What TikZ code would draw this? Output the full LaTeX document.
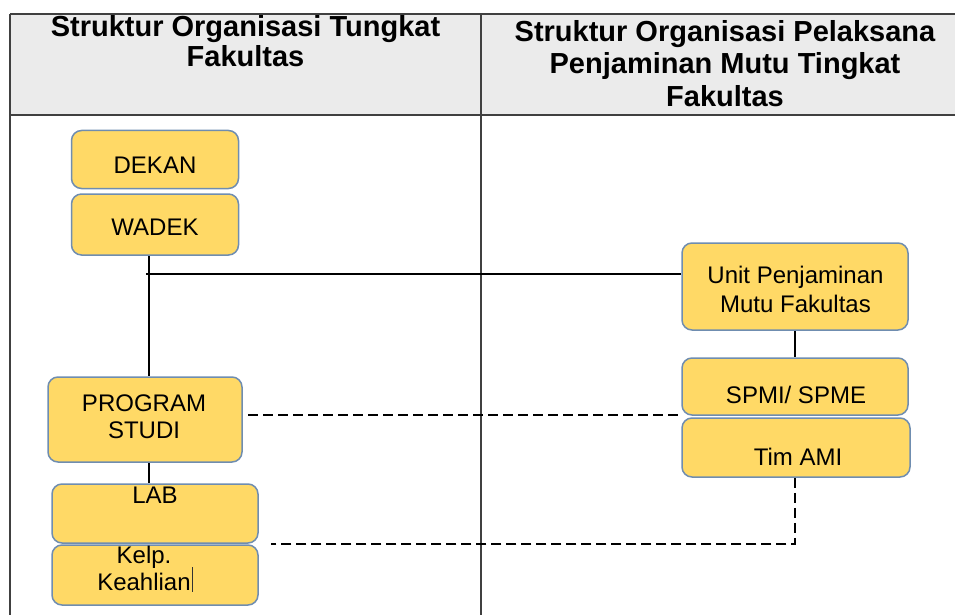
\documentclass[tikz,border=0pt]{standalone}
\usepackage{fontspec}
\setmainfont{Liberation Sans}
\usetikzlibrary{backgrounds}
\definecolor{boxyellow}{HTML}{FFD966}
\definecolor{boxblue}{HTML}{6F8DB0}
\definecolor{hdrgray}{HTML}{EBEBEB}
\begin{document}
\begin{tikzpicture}[x=1pt,y=-1pt,
  box/.style={draw=boxblue, fill=boxyellow, line width=1.5pt, rounded corners=10pt, inner sep=0pt},
  lbl/.style={anchor=base, align=center, inner sep=0pt, font=\fontsize{24}{27}\selectfont},
  hdr/.style={anchor=base, align=center, inner sep=0pt},
  conn/.style={line width=1.8pt, black},
  dconn/.style={line width=1.6pt, black, dash pattern=on 10pt off 5pt},
  rule/.style={line width=2pt, black!75}]
\useasboundingbox (0,0) rectangle (955,615);
% coordinates
\coordinate (trunk) at (149,274);
\coordinate (trunkstart) at (146,274);
\coordinate (dashA) at (248,415);
\coordinate (dashB) at (680,415);
\coordinate (corner) at (795,544);
\coordinate (dashEnd) at (271,544);
% boxes
\node[box, minimum width=167, minimum height=58] (dekan) at (155,159.5) {};
\node[box, minimum width=167, minimum height=61] (wadek) at (155,224.5) {};
\node[box, minimum width=194, minimum height=85] (ps) at (145,419.5) {};
\node[box, minimum width=206, minimum height=59] (lab) at (155,513.5) {};
\node[box, minimum width=206, minimum height=60] (kelp) at (155,575) {};
\node[box, minimum width=226, minimum height=87] (unit) at (795,286.5) {};
\node[box, minimum width=226, minimum height=57] (spmi) at (795,386.5) {};
\node[box, minimum width=228, minimum height=59] (ami) at (796,447.5) {};
% labels
\node[lbl] (dekanT) at (155,173) {DEKAN};
\node[lbl] (wadekT) at (155,235) {WADEK};
\node[lbl] (psT) at (144,438) {PROGRAM\\STUDI};
\node[lbl] (labT) at (155,503) {LAB};
\node[lbl] (kelpT) at (144,590) {Kelp.\\Keahlian};
\draw[line width=1pt, black!80] (192,567) -- (192,592);
\node[lbl, font=\fontsize{24}{29}\selectfont] (unitT) at (795.5,312) {Unit Penjaminan\\Mutu Fakultas};
\node[lbl] (spmiT) at (796,403) {SPMI/ SPME};
\node[lbl] (amiT) at (798,465) {Tim AMI};
\begin{scope}[on background layer]
% table
\fill[hdrgray] (10,14) rectangle (965,115);
\draw[rule] (10,14) -- (965,14);
\draw[rule] (10,115) -- (965,115);
\draw[rule] (10,14) -- (10,620);
\draw[rule] (481,14) -- (481,620);
% connectors
\draw[conn] (wadek.south -| trunk) -- (ps.north -| trunk);
\draw[conn] (trunkstart) -- (unit.west |- trunk);
\draw[conn] (ps.south -| trunk) -- (lab.north -| trunk);
\draw[conn] (unit.south) -- (spmi.north -| unit.south);
\draw[dconn] (dashA) -- (dashB);
\draw[dconn] (ami.south -| corner) -- (corner) -- (dashEnd);
\end{scope}
\node[hdr, font=\bfseries\fontsize{29}{30}\selectfont] (hleft) at (245.5,67) {Struktur Organisasi Tungkat\\Fakultas};
\node[hdr, font=\bfseries\fontsize{29}{33}\selectfont] (hright) at (725,107) {Struktur Organisasi Pelaksana\\Penjaminan Mutu Tingkat\\Fakultas};
\end{tikzpicture}
\end{document}
